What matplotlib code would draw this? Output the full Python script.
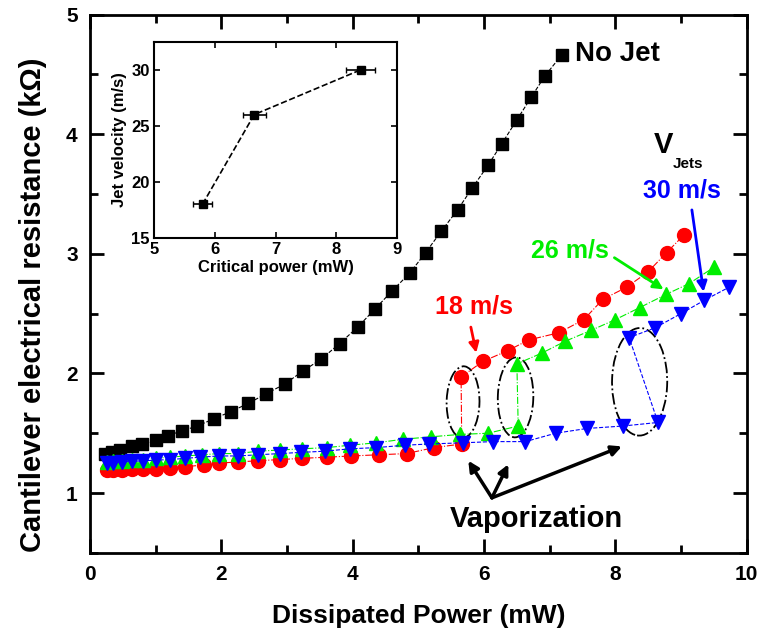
import matplotlib
matplotlib.use('Agg')
import matplotlib.pyplot as plt
from matplotlib.patches import Ellipse
from matplotlib.ticker import MultipleLocator

plt.rcParams['font.family'] = ['Liberation Sans', 'DejaVu Sans']
plt.rcParams['font.weight'] = 'bold'
plt.rcParams['axes.labelweight'] = 'bold'

# No jet
nojet_x = [0.23, 0.33, 0.45, 0.64, 0.79, 1.0, 1.18, 1.40, 1.63, 1.88, 2.14, 2.41, 2.68, 2.96,
           3.24, 3.52, 3.80, 4.08, 4.34, 4.60, 4.87, 5.11, 5.35, 5.60, 5.82, 6.06, 6.27, 6.50,
           6.72, 6.93, 7.18]
nojet_y = [1.33, 1.345, 1.36, 1.39, 1.41, 1.44, 1.48, 1.52, 1.56, 1.62, 1.68, 1.75, 1.83, 1.91,
           2.02, 2.12, 2.25, 2.39, 2.54, 2.69, 2.84, 3.01, 3.19, 3.37, 3.55, 3.74, 3.92, 4.12,
           4.31, 4.49, 4.66]

# 18 m/s
jet18_x = [0.25, 0.35, 0.49, 0.64, 0.81, 1.0, 1.22, 1.45, 1.73, 1.96, 2.25, 2.56, 2.89, 3.23,
           3.61, 3.98, 4.40, 4.82, 5.24, 5.66,
           5.65, 5.98, 6.36, 6.68, 7.14, 7.52, 7.81, 8.17, 8.50, 8.78, 9.05]
jet18_y = [1.19, 1.19, 1.195, 1.20, 1.20, 1.205, 1.21, 1.22, 1.235, 1.25, 1.26, 1.27, 1.28, 1.29,
           1.30, 1.31, 1.32, 1.33, 1.38, 1.41,
           1.97, 2.10, 2.19, 2.28, 2.34, 2.45, 2.62, 2.72, 2.85, 3.01, 3.16]

# 26 m/s
jet26_x = [0.25, 0.35, 0.49, 0.64, 0.81, 1.0, 1.22, 1.45, 1.71, 1.96, 2.25, 2.56, 2.89, 3.23,
           3.61, 3.96, 4.36, 4.77, 5.19, 5.63, 6.06, 6.52,
           6.50, 6.88, 7.24, 7.63, 8.00, 8.37, 8.77, 9.12, 9.51]
jet26_y = [1.26, 1.265, 1.27, 1.275, 1.28, 1.29, 1.30, 1.31, 1.32, 1.33, 1.33, 1.35, 1.36, 1.37,
           1.38, 1.40, 1.42, 1.45, 1.47, 1.49, 1.50, 1.56,
           2.08, 2.17, 2.27, 2.36, 2.45, 2.55, 2.66, 2.75, 2.89]

# 30 m/s
jet30_x = [0.25, 0.35, 0.49, 0.64, 0.81, 1.0, 1.22, 1.45, 1.68, 1.96, 2.25, 2.56, 2.89, 3.21,
           3.58, 3.96, 4.36, 4.80, 5.16, 5.68, 6.13, 6.63, 7.09, 7.57, 8.11, 8.65,
           8.21, 8.60, 9.00, 9.35, 9.73]
jet30_y = [1.25, 1.255, 1.26, 1.265, 1.27, 1.275, 1.28, 1.29, 1.30, 1.31, 1.31, 1.32, 1.33, 1.34,
           1.35, 1.37, 1.38, 1.40, 1.41, 1.42, 1.43, 1.43, 1.50, 1.54, 1.56, 1.59,
           2.30, 2.38, 2.50, 2.61, 2.72]

# inset: critical power vs jet velocity
crit_power = [5.8, 6.65, 8.4]
crit_err = [0.16, 0.19, 0.24]
jet_vel = [18, 26, 30]

fig = plt.figure(figsize=(7.58, 6.34), dpi=100)
ax = fig.add_axes([0.119, 0.128, 0.866, 0.849])

ax.plot(nojet_x, nojet_y, ls='--', lw=0.8, color='black', marker='s', ms=8, mec='black', zorder=3)
ax.plot(jet18_x, jet18_y, ls='-.', lw=0.8, color='red', marker='o', ms=10, mec='red', zorder=3)
ax.plot(jet26_x, jet26_y, ls='-.', lw=0.8, color='#00ee00', marker='^', ms=10, mec='#00ee00', zorder=3)
ax.plot(jet30_x, jet30_y, ls='--', lw=0.8, color='blue', marker='v', ms=10, mec='blue', zorder=3)

# vaporization ellipses
for cx, cy, w, h in [(5.68, 1.76, 0.50, 0.60), (6.48, 1.80, 0.54, 0.67), (8.37, 1.93, 0.84, 0.90)]:
    ax.add_patch(Ellipse((cx, cy), w, h, angle=-5, fill=False, ls='-.', lw=1.3, color='black', zorder=2))

ax.set_xlim(0, 10)
ax.set_ylim(0.5, 5)
ax.xaxis.set_major_locator(MultipleLocator(2))
ax.xaxis.set_minor_locator(MultipleLocator(1))
ax.yaxis.set_major_locator(MultipleLocator(1))
ax.yaxis.set_minor_locator(MultipleLocator(0.5))
ax.tick_params(which='both', direction='in', top=True, right=True, width=2)
ax.tick_params(which='major', length=10, labelsize=15, pad=9)
ax.tick_params(which='minor', length=6)
for s in ax.spines.values():
    s.set_linewidth(2)
ax.set_xlabel('Dissipated Power (mW)', fontsize=19, labelpad=14)
ax.set_ylabel('Cantilever electrical resistance (k\u03a9)', fontsize=21)
ax.yaxis.set_label_coords(-0.066, 0.46)

# labels and arrows
ax.text(7.38, 4.67, 'No Jet', fontsize=20, va='center', ha='left')
ax.text(8.73, 3.91, 'V', fontsize=21, va='center', ha='center')
ax.text(8.88, 3.75, 'Jets', fontsize=11, va='center', ha='left')
ax.text(9.01, 3.53, '30 m/s', fontsize=18, va='center', ha='center', color='blue')
ax.annotate('', xy=(9.35, 2.66), xytext=(9.16, 3.39),
            arrowprops=dict(arrowstyle='-|>', color='blue', lw=2, mutation_scale=15))
ax.text(7.31, 3.03, '26 m/s', fontsize=18, va='center', ha='center', color='#00ee00')
ax.annotate('', xy=(8.77, 2.69), xytext=(7.95, 2.98),
            arrowprops=dict(arrowstyle='-|>', color='#00ee00', lw=2, mutation_scale=15))
ax.text(5.84, 2.56, '18 m/s', fontsize=18, va='center', ha='center', color='red')
ax.annotate('', xy=(5.89, 2.15), xytext=(5.79, 2.41),
            arrowprops=dict(arrowstyle='-|>', color='red', lw=2, mutation_scale=15))

ax.text(6.79, 0.78, 'Vaporization', fontsize=21, va='center', ha='center')
for tx, ty in [(5.76, 1.27), (6.37, 1.24), (8.10, 1.39)]:
    ax.annotate('', xy=(tx, ty), xytext=(6.12, 0.96),
                arrowprops=dict(arrowstyle='-|>', color='black', lw=2.5, mutation_scale=15,
                                shrinkA=0, shrinkB=0))

# inset
ins = fig.add_axes([0.203, 0.625, 0.321, 0.309])
ins.errorbar(crit_power, jet_vel, xerr=crit_err, ls='--', lw=1.2, color='black', marker='s', ms=6,
             capsize=2, elinewidth=1.2)
ins.set_xlim(5, 9)
ins.set_ylim(15, 32.5)
ins.xaxis.set_major_locator(MultipleLocator(1))
ins.yaxis.set_major_locator(MultipleLocator(5))
ins.tick_params(direction='in', top=True, right=True, length=4, width=1.2, labelsize=12, pad=3)
for s in ins.spines.values():
    s.set_linewidth(1.5)
ins.set_xlabel('Critical power (mW)', fontsize=12, labelpad=2)
ins.set_ylabel('Jet velocity (m/s)', fontsize=12, labelpad=3)

for a in (ax, ins):
    for lab in a.get_xticklabels() + a.get_yticklabels():
        lab.set_fontweight('bold')

fig.savefig('out.png', dpi=100)
